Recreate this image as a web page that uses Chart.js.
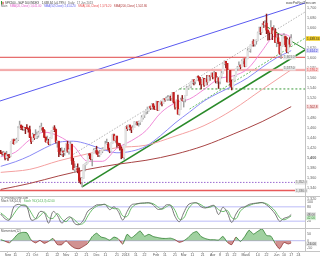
<!DOCTYPE html>
<html>
<head>
<meta charset="utf-8">
<title>SPX500 daily</title>
<script src="https://cdn.jsdelivr.net/npm/chart.js@4.4.1/dist/chart.umd.min.js"></script>
<style>
  html, body { margin: 0; padding: 0; background: #fff; }
  body { width: 320px; height: 256px; position: relative; overflow: hidden; }
  .pane { position: absolute; left: 0; width: 320px; }
  .rule { position: absolute; background: #c4c4c4; }
</style>
</head>
<body>
<div class="pane" style="top:0;height:200px"><canvas id="mainChart"></canvas></div>
<div class="pane" style="top:196px;height:32px"><canvas id="stochChart"></canvas></div>
<div class="pane" style="top:228px;height:28px"><canvas id="momChart"></canvas></div>
<div class="rule" style="left:0;top:196px;width:320px;height:1px"></div>
<div class="rule" style="left:0;top:228px;width:320px;height:1px"></div>
<div class="rule" style="left:0;top:251px;width:320px;height:1px"></div>
<div class="rule" style="left:305px;top:0;width:1px;height:251px"></div>
<script>
// daily candles, 27 Aug 2012 .. 17 Jun 2013 (index = trading day)
const opens = [
  1411,1410,1409,1410,1401,1406,1405,1404,1432,1437,
  1429,1434,1437,1460,1466,1461,1459,1461,1461,1460,
  1457,1442,1434,1447,1441,1445,1446,1451,1461,1461,
  1456,1442,1433,1433,1429,1440,1455,1461,1457,1433,
  1434,1413,1409,1413,1411,1412,1428,1414,1417,1428,
  1394,1378,1380,1380,1375,1356,1353,1360,1387,1388,
  1391,1409,1406,1399,1410,1416,1416,1410,1407,1409,
  1414,1418,1419,1428,1429,1420,1414,1430,1447,1436,
  1444,1430,1427,1420,1418,1402,1426,1462,1459,1466,
  1462,1457,1461,1472,1472,1471,1472,1473,1481,1486,
  1493,1495,1495,1503,1500,1508,1502,1498,1513,1496,
  1511,1512,1509,1518,1517,1519,1520,1521,1520,1531,
  1512,1502,1516,1488,1497,1516,1515,1518,1525,1540,
  1542,1544,1551,1556,1553,1555,1563,1561,1552,1548,
  1559,1546,1557,1552,1564,1563,1569,1562,1570,1554,
  1560,1553,1563,1569,1588,1593,1589,1552,1575,1552,
  1542,1555,1563,1579,1579,1585,1582,1594,1598,1583,
  1598,1614,1618,1626,1633,1627,1634,1634,1650,1659,
  1651,1668,1666,1669,1655,1651,1650,1660,1648,1654,
  1631,1640,1631,1609,1623,1643,1643,1626,1612,1636,
  1627
];
const highs = [
  1416,1413,1414,1411,1414,1408,1408,1433,1438,1438,
  1438,1440,1463,1474,1466,1464,1462,1461,1467,1460,
  1464,1442,1450,1447,1457,1452,1454,1464,1470,1461,
  1457,1442,1444,1438,1441,1455,1462,1465,1458,1435,
  1434,1420,1421,1415,1420,1429,1434,1420,1433,1428,
  1400,1389,1384,1389,1381,1361,1362,1387,1389,1392,
  1409,1409,1409,1410,1419,1420,1424,1413,1416,1414,
  1421,1421,1434,1438,1432,1420,1431,1448,1448,1444,
  1444,1430,1430,1423,1418,1427,1463,1465,1467,1466,
  1462,1465,1473,1473,1472,1474,1474,1485,1486,1493,
  1496,1502,1503,1504,1509,1509,1504,1514,1513,1512,
  1513,1513,1519,1518,1522,1525,1524,1524,1531,1531,
  1512,1516,1526,1498,1520,1525,1519,1525,1543,1543,
  1546,1552,1557,1556,1555,1563,1564,1561,1557,1561,
  1559,1558,1565,1564,1564,1570,1570,1573,1571,1563,
  1560,1563,1573,1589,1594,1593,1589,1575,1575,1556,
  1556,1565,1579,1583,1592,1586,1596,1598,1598,1598,
  1618,1619,1626,1633,1636,1634,1636,1651,1661,1661,
  1668,1672,1674,1687,1655,1651,1674,1660,1664,1658,
  1641,1647,1631,1623,1645,1648,1643,1640,1637,1640,
  1646
];
const lows = [
  1409,1406,1406,1397,1399,1396,1401,1404,1429,1428,
  1429,1432,1435,1460,1457,1456,1455,1449,1459,1452,
  1441,1429,1434,1437,1440,1439,1442,1451,1456,1452,
  1441,1432,1432,1427,1427,1440,1454,1453,1430,1422,
  1403,1407,1406,1403,1406,1412,1412,1408,1417,1388,
  1377,1373,1377,1371,1352,1349,1343,1360,1375,1387,
  1391,1399,1397,1385,1410,1412,1408,1403,1403,1408,
  1411,1415,1419,1427,1416,1411,1414,1430,1435,1432,
  1422,1425,1416,1399,1401,1398,1426,1455,1458,1456,
  1451,1457,1461,1467,1466,1464,1467,1473,1478,1481,
  1488,1489,1494,1497,1498,1498,1497,1498,1495,1496,
  1507,1504,1509,1513,1516,1515,1515,1515,1520,1510,
  1498,1502,1488,1486,1497,1514,1502,1512,1525,1538,
  1542,1540,1548,1546,1548,1555,1555,1546,1538,1548,
  1543,1546,1546,1552,1555,1563,1558,1562,1550,1549,
  1539,1548,1560,1569,1586,1580,1552,1552,1543,1536,
  1542,1555,1563,1575,1579,1578,1582,1588,1582,1583,
  1598,1612,1611,1623,1623,1623,1627,1634,1647,1646,
  1651,1660,1662,1648,1635,1636,1650,1636,1648,1630,
  1622,1628,1607,1598,1623,1639,1622,1610,1609,1622,
  1627
];
const closes = [
  1410,1409,1411,1400,1407,1405,1403,1432,1438,1429,
  1434,1437,1460,1466,1461,1459,1461,1460,1460,1457,
  1442,1433,1447,1441,1445,1446,1451,1461,1461,1456,
  1442,1433,1433,1429,1440,1455,1461,1457,1433,1434,
  1413,1409,1413,1412,1412,1428,1414,1417,1428,1395,
  1378,1380,1380,1375,1356,1353,1360,1387,1388,1391,
  1409,1406,1399,1410,1416,1416,1410,1407,1409,1414,
  1418,1419,1428,1429,1420,1414,1430,1447,1436,1444,
  1430,1427,1420,1418,1402,1426,1462,1459,1467,1462,
  1457,1461,1472,1472,1471,1472,1473,1481,1486,1493,
  1495,1495,1503,1500,1508,1502,1498,1513,1496,1511,
  1512,1509,1518,1517,1519,1520,1521,1520,1531,1512,
  1502,1516,1488,1497,1516,1515,1518,1525,1540,1542,
  1544,1551,1556,1553,1555,1563,1561,1552,1548,1559,
  1546,1557,1552,1564,1563,1569,1562,1570,1554,1560,
  1553,1563,1569,1588,1593,1589,1552,1575,1552,1542,
  1555,1563,1579,1579,1585,1582,1594,1598,1583,1598,
  1614,1618,1626,1633,1627,1634,1634,1650,1659,1651,
  1668,1666,1669,1655,1651,1650,1660,1648,1654,1631,
  1640,1631,1609,1623,1643,1643,1626,1612,1636,1627,
  1638.34
];

// moving averages
const ma20Days = [0,10,20,30,40,50,60,70,80,90,100,110,120,130,140,150,160,170,180,185,190,195,200];
const ma20 = [1403,1412,1437,1452,1444,1425,1394,1394,1420,1435,1455,1490,1510,1518,1537,1558,1564,1578,1614,1634,1646,1647,1641];
const ma50Days = [0,10,20,30,40,50,60,70,80,90,100,110,120,130,140,150,160,170,180,190,200];
const ma50 = [1384,1393,1405,1420,1432,1434,1428,1418,1411,1414,1424,1445,1470,1492,1514,1530,1544,1560,1581,1600,1614.2];
const maLongDays = [0,20,40,60,80,100,120,140,160,180,200];
const ma100 = [1372,1378,1395,1409,1421,1426,1444,1465,1497,1537,1576.2];
const ma200 = [1338,1350,1365,1378,1388,1396,1408,1425,1448,1473,1502.8];

// drawn levels and trend lines (day index, price)
const resistTop = 1601;
const pinkBand = [1577, 1574.5];
const supportDays = [123, 209.5];
const supportLevel = 1538;
const novLowLevel = 1352;
const bottomLevel = 1336;
const upperChannelDays = [-0.5, 209.5], upperChannelPrices = [1514, 1709];
const grayChannelDays = [50, 209.5], grayChannelPrices = [1408, 1691];
const greenTrendDays = [56, 209.5], greenTrendPrices = [1343, 1615.5];
const greenParallelDays = [130, 209.5], greenParallelPrices = [1498, 1639];
const peakTrendDays = [183, 209.5], peakTrendPrices = [1662, 1617];

// indicators, sampled every third day
const indDays = [0,3,6,9,12,15,18,21,24,27,30,33,36,39,42,45,48,51,54,57,60,63,66,69,72,75,78,81,84,87,90,93,96,99,
  102,105,108,111,114,117,120,123,126,129,132,135,138,141,144,147,150,153,156,159,162,165,168,171,174,177,180,183,186,189,192,195,198,200];
const stochK = [50,30,25,80,90,85,80,25,30,60,55,12,60,45,12,30,38,10,6,25,62,75,88,88,90,68,80,60,25,60,88,92,95,96,
  97,88,70,72,88,85,40,18,55,88,96,96,80,75,82,85,48,78,55,15,50,75,80,90,94,96,98,88,72,50,20,32,38,48];
const stochD = [55,40,28,50,75,88,83,55,30,42,58,35,32,52,30,18,35,25,8,12,42,68,82,88,89,80,72,72,42,40,75,90,94,95,
  96,93,80,70,80,87,65,28,33,70,92,96,88,77,78,84,68,60,65,35,30,62,78,85,92,95,97,93,80,62,35,26,34,42];
const momentum = [8,-4,-15,16,50,60,57,4,-16,2,-19,-5,16,-28,-29,-1,-33,-54,-58,-41,-19,30,54,27,19,4,26,13,-25,46,21,45,70,33,
  46,30,23,17,16,18,7,-12,-1,22,54,66,30,15,7,7,5,31,-11,-29,26,-6,30,76,48,68,85,38,33,-20,-59,-13,-24,-16];
const stochBands = [80, 20];

// axes
const dayMin = -0.5, dayMax = 209.5;
const priceTicks = [1320,1340,1360,1380,1400,1420,1440,1460,1480,1500,1520,1540,1560,1580,1600,1620,1640,1660,1680,1700];
const stochTicks = [100, 80, 50, 20];
const momTicks = [50, 0, -50];
const xTickDays = [5,10,19,24,32,39,45,52,59,66,72,80,86,93,99,107,113,120,126,132,139,146,151,156,161,168,171,177,183,190,195,200,205];
const xTickText = ['Sep','11','21','Oct','11','22','Nov','12','21','Dec','11','21','2013','11','22','Feb','11','21','Mar','11','21','Apr','8','15','22','May','6','14','22','Jun','10','17','24'];

const FONT = '"Liberation Sans", Arial, sans-serif';
const HEAD = '2.9px ' + FONT;
const TAG = '3.2px ' + FONT;

const fmt0 = v => v.toLocaleString('en-US');
const fmt1 = v => v.toLocaleString('en-US', { minimumFractionDigits: 1, maximumFractionDigits: 1 });
const fmt2 = v => v.toLocaleString('en-US', { minimumFractionDigits: 2, maximumFractionDigits: 2 });

const pts = (xs, ys) => xs.map((x, i) => ({ x: x, y: ys[i] }));
const flat = (xs, v) => xs.map(x => ({ x: x, y: v }));
const fullSpan = [dayMin, dayMax];

function lineSet(data, color, width, dash, order) {
  return { type: 'line', data: data, borderColor: color, borderWidth: width, borderDash: dash || [],
    pointRadius: 0, fill: false, tension: 0, order: order || 5 };
}
function curveSet(data, color, order) {
  return { type: 'line', data: data, borderColor: color, borderWidth: 1, pointRadius: 0,
    fill: false, tension: 0.35, cubicInterpolationMode: 'monotone', order: order || 3 };
}

function xAxis() {
  return { type: 'linear', min: dayMin, max: dayMax, offset: false, display: false };
}
function rightAxis(min, max, tickVals, fmt) {
  return {
    position: 'right', min: min, max: max,
    grid: { display: false, drawTicks: false, tickLength: 0 }, border: { display: false },
    afterBuildTicks: s => { s.ticks = tickVals.map(v => ({ value: v })); },
    afterFit: s => { s.width = 15; s.paddingTop = 0; s.paddingBottom = 0; },
    ticks: {
      autoSkip: false, padding: 2, color: '#666',
      font: c => ({ size: 3.7, family: FONT, weight: (c.tick && c.tick.value === 1400) ? 'bold' : 'normal' }),
      callback: fmt
    }
  };
}

function valueBox(ctx, x, y, text, bg, fg) {
  const w = ctx.measureText(text).width + 2;
  ctx.fillStyle = bg;
  ctx.fillRect(x, y - 2.2, w, 4.4);
  ctx.fillStyle = fg;
  ctx.fillText(text, x + 1, y + 0.2);
}
function textRun(ctx, x, y, parts) {
  parts.forEach(p => {
    ctx.fillStyle = p[1];
    ctx.fillText(p[0], x, y);
    x += ctx.measureText(p[0]).width + 2.5;
  });
}

const baseOpts = {
  responsive: true, maintainAspectRatio: false, animation: false,
  layout: { padding: 0 },
  plugins: { legend: { display: false }, tooltip: { enabled: false } },
  events: []
};

// ---------- MAIN PRICE PANEL ----------
const days = closes.map((c, i) => i);
const isUp = i => closes[i] >= opens[i];

const mainDecor = {
  id: 'mainDecor',
  afterDraw(chart) {
    const ctx = chart.ctx, y = chart.scales.y;
    ctx.save();
    ctx.textBaseline = 'middle';
    ctx.textAlign = 'left';
    ctx.fillStyle = '#2e9a2e';
    ctx.fillRect(1, 1, 1, 3.5);
    ctx.fillStyle = '#c62020';
    ctx.fillRect(2.5, 1.8, 1, 2.5);
    ctx.font = HEAD;
    textRun(ctx, 5, 2.8, [
      ['SPX500 - S&P 500 INDEX', '#333'],
      ['1,638.34 (+0.79%)', '#333'],
      ['Daily', '#666'],
      ['17 Jun 2013', '#666']
    ]);
    textRun(ctx, 1, 6.6, [
      ['Main', '#666'],
      ['SMA(20,Close) ' + fmt2(ma20[ma20.length - 1]), '#e05cc8'],
      ['SMA(50,Close) ' + fmt2(ma50[ma50.length - 1]), '#6060f0'],
      ['SMA(100,Close) ' + fmt2(ma100[ma100.length - 1]), '#e85050'],
      ['SMA(200,Close) ' + fmt2(ma200[ma200.length - 1]), '#b03a3a']
    ]);
    ctx.textAlign = 'right';
    ctx.fillStyle = '#444';
    ctx.fillText('www.ProRealTime.com', 316, 2.8);
    ctx.textAlign = 'left';

    ctx.font = TAG;
    // level tags inside the plot
    valueBox(ctx, 283, y.getPixelForValue(resistTop), fmt1(resistTop), '#e6e6e6', '#666');
    valueBox(ctx, 283, y.getPixelForValue(pinkBand[0]) - 1, fmt1(pinkBand[0]), '#e6e6e6', '#666');
    valueBox(ctx, 295, y.getPixelForValue(novLowLevel), fmt1(novLowLevel), '#e6e6e6', '#666');
    valueBox(ctx, 295, y.getPixelForValue(bottomLevel), fmt1(bottomLevel), '#e6e6e6', '#666');

    // last values on the price scale
    valueBox(ctx, 306, y.getPixelForValue(ma200[ma200.length - 1]), fmt1(ma200[ma200.length - 1]), '#fbe0e0', '#a03030');
    valueBox(ctx, 306, y.getPixelForValue(ma100[ma100.length - 1]), fmt1(ma100[ma100.length - 1]), '#fcd6d6', '#d04040');
    valueBox(ctx, 306, y.getPixelForValue(ma50[ma50.length - 1]), fmt1(ma50[ma50.length - 1]), '#d8d8fc', '#4040d0');
    valueBox(ctx, 306, y.getPixelForValue(closes[closes.length - 1]), fmt2(closes[closes.length - 1]), '#f2cc1a', '#333');
    ctx.restore();
  }
};

new Chart(document.getElementById('mainChart'), {
  type: 'bar',
  data: {
    datasets: [
      {
        data: days.map(i => ({ x: i, y: [opens[i], closes[i]] })),
        backgroundColor: c => isUp(c.dataIndex) ? '#e2e2e2' : '#c62020',
        barThickness: 1.6, grouped: false, minBarLength: 0.8, order: 0
      },
      {
        data: days.map(i => ({ x: i, y: [lows[i], highs[i]] })),
        backgroundColor: c => isUp(c.dataIndex) ? '#a0a0a0' : '#8b1a1a',
        barThickness: 0.8, grouped: false, order: 1
      },
      curveSet(pts(ma20Days, ma20), '#f08ad8'),
      curveSet(pts(ma50Days, ma50), '#8a8af5'),
      curveSet(pts(maLongDays, ma100), '#f4a0a0'),
      curveSet(pts(maLongDays, ma200), '#a84545'),
      lineSet(flat(fullSpan, resistTop), '#e04848', 1),
      lineSet(flat(fullSpan, pinkBand[0]), '#f2a2a2', 1),
      lineSet(flat(fullSpan, pinkBand[1]), '#f2a2a2', 1),
      lineSet(flat(supportDays, supportLevel), '#3a9a3a', 1, [2, 2]),
      lineSet(flat(fullSpan, novLowLevel), '#9a6ad0', 1, [1.5, 1.5]),
      lineSet(flat(fullSpan, bottomLevel), '#e85a5a', 1.4),
      lineSet(pts(upperChannelDays, upperChannelPrices), '#5a5af0', 1),
      lineSet(pts(grayChannelDays, grayChannelPrices), '#b4b4b4', 1, [1.5, 1.5]),
      lineSet(pts(greenTrendDays, greenTrendPrices), '#2a8a2a', 1.5),
      lineSet(pts(greenParallelDays, greenParallelPrices), '#6cc06c', 1, [2, 1.5]),
      lineSet(pts(peakTrendDays, peakTrendPrices), '#2a8a2a', 1)
    ]
  },
  options: Object.assign({}, baseOpts, {
    scales: {
      x: xAxis(),
      y: rightAxis(1317, 1715, priceTicks, v => fmt0(v))
    }
  }),
  plugins: [mainDecor]
});

// ---------- STOCHASTIC PANEL ----------
const stochDecor = {
  id: 'stochDecor',
  afterDraw(chart) {
    const ctx = chart.ctx, y = chart.scales.y;
    ctx.save();
    ctx.font = HEAD;
    ctx.textBaseline = 'middle';
    ctx.textAlign = 'left';
    ctx.fillStyle = '#555';
    ctx.fillText('(c) ProRealTime.com', 1, 2.2);
    textRun(ctx, 1, 5.4, [
      ['Stoch %K(14,3)', '#555'],
      ['Stoch %D(14,3,3) ' + fmt2(stochD[stochD.length - 1]), '#4caf50']
    ]);
    ctx.font = TAG;
    valueBox(ctx, 306, y.getPixelForValue(stochK[stochK.length - 1]), fmt2(stochK[stochK.length - 1]), '#e2e2e2', '#444');
    valueBox(ctx, 306, y.getPixelForValue(stochD[stochD.length - 1]) + 2, fmt2(stochD[stochD.length - 1]), '#d6f0d6', '#2e8a2e');
    ctx.restore();
  }
};

new Chart(document.getElementById('stochChart'), {
  type: 'line',
  data: {
    datasets: [
      lineSet(flat(fullSpan, stochBands[0]), '#d2d2fa', 1.6, null, 9),
      lineSet(flat(fullSpan, stochBands[1]), '#d2d2fa', 1.6, null, 9),
      { data: pts(indDays, stochD), borderColor: '#5cb85c', borderWidth: 0.9, pointRadius: 0, tension: 0.35, order: 2 },
      { data: pts(indDays, stochK), borderColor: '#6a6a6a', borderWidth: 0.9, pointRadius: 0, tension: 0.35, order: 1 }
    ]
  },
  options: Object.assign({}, baseOpts, {
    scales: {
      x: xAxis(),
      y: rightAxis(-8.3, 125, stochTicks, v => String(v))
    }
  }),
  plugins: [stochDecor]
});

// ---------- MOMENTUM PANEL ----------
const momDecor = {
  id: 'momDecor',
  afterDraw(chart) {
    const ctx = chart.ctx, y = chart.scales.y;
    ctx.save();
    ctx.font = HEAD;
    ctx.textBaseline = 'middle';
    ctx.textAlign = 'left';
    ctx.fillStyle = '#555';
    ctx.fillText('Momentum(12)', 1, 2.8);
    ctx.font = TAG;
    valueBox(ctx, 306, y.getPixelForValue(momentum[momentum.length - 1]) + 1, fmt2(momentum[momentum.length - 1]), '#e2e2e2', '#444');
    ctx.restore();
  }
};

new Chart(document.getElementById('momChart'), {
  type: 'line',
  data: {
    datasets: [
      lineSet(flat(fullSpan, 0), '#c8c8f2', 1.4, null, 9),
      {
        data: pts(indDays, momentum), borderWidth: 0.8, pointRadius: 0, tension: 0.2, order: 1,
        fill: { target: 'origin', above: 'rgba(120,190,120,0.7)', below: 'rgba(190,100,100,0.7)' },
        segment: { borderColor: c => (c.p0.parsed.y + c.p1.parsed.y >= 0 ? '#2f7f2f' : '#8b2a2a') }
      }
    ]
  },
  options: Object.assign({}, baseOpts, {
    scales: {
      x: {
        type: 'linear', min: dayMin, max: dayMax, offset: false,
        grid: { display: true, drawOnChartArea: false, tickLength: 1.5, color: '#999' },
        border: { display: false },
        afterBuildTicks: s => { s.ticks = xTickDays.map(v => ({ value: v })); },
        afterFit: s => { s.height = 5; s.paddingLeft = 0; s.paddingRight = 0; },
        ticks: {
          autoSkip: false, maxRotation: 0, minRotation: 0, padding: 0, color: '#555',
          font: { size: 3.5, family: FONT },
          callback: (v, i) => xTickText[i]
        }
      },
      y: rightAxis(-75, 92, momTicks, v => String(v))
    }
  }),
  plugins: [momDecor]
});
</script>
</body>
</html>
